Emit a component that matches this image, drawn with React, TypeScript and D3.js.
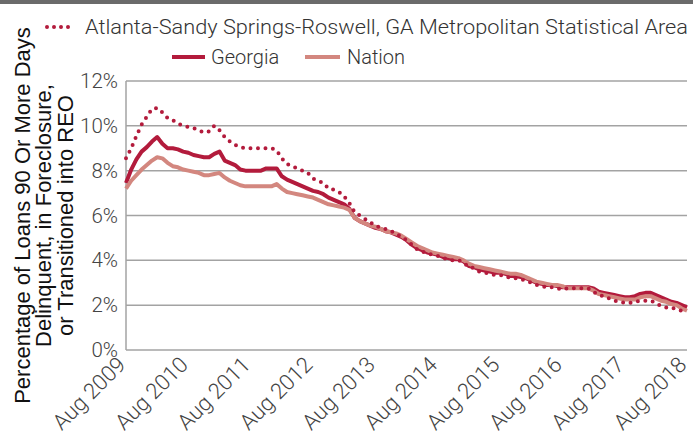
import React from 'react';
import * as d3 from 'd3';

// monthly values, Aug 2009 .. Aug 2018 (percent)
const atlanta = [
  8.55, 9.0, 9.55, 10.05, 10.4, 10.75, 10.8, 10.6, 10.35, 10.25, 10.1, 10.0,
  9.95, 9.9, 9.8, 9.7, 9.75, 10.0, 9.8, 9.5, 9.3, 9.15, 9.05, 9.0,
  9.0, 9.0, 9.0, 9.0, 9.0, 8.9, 8.55, 8.3, 8.2, 8.1, 8.0, 7.9,
  7.65, 7.55, 7.45, 7.2, 7.15, 7.05, 6.85, 6.55, 6.15, 6.0, 5.85, 5.7,
  5.55, 5.45, 5.4, 5.3, 5.2, 5.05, 4.9, 4.7, 4.5, 4.4, 4.3, 4.25,
  4.2, 4.1, 4.05, 4.0, 4.0, 3.9, 3.7, 3.65, 3.5, 3.45, 3.4, 3.35,
  3.35, 3.3, 3.2, 3.2, 3.15, 3.1, 3.0, 2.9, 2.85, 2.8, 2.8, 2.75,
  2.7, 2.75, 2.75, 2.75, 2.75, 2.75, 2.6, 2.45, 2.4, 2.3, 2.2, 2.15,
  2.1, 2.1, 2.15, 2.2, 2.2, 2.2, 2.1, 1.95, 1.9, 1.9, 1.8, 1.75, 1.75,
];
const georgia = [
  7.45, 8.05, 8.5, 8.85, 9.05, 9.3, 9.5, 9.2, 9.0, 9.0, 8.95, 8.85,
  8.8, 8.7, 8.65, 8.6, 8.6, 8.75, 8.85, 8.45, 8.35, 8.25, 8.05, 8.0,
  8.0, 8.0, 8.0, 8.1, 8.1, 8.1, 7.75, 7.6, 7.5, 7.4, 7.3, 7.2,
  7.1, 7.05, 6.95, 6.8, 6.7, 6.6, 6.5, 6.3, 5.9, 5.75, 5.65, 5.55,
  5.45, 5.4, 5.3, 5.25, 5.15, 5.05, 4.9, 4.7, 4.55, 4.45, 4.35, 4.3,
  4.25, 4.15, 4.1, 4.05, 4.05, 3.95, 3.75, 3.7, 3.6, 3.55, 3.5, 3.45,
  3.45, 3.4, 3.3, 3.3, 3.25, 3.2, 3.1, 3.0, 2.95, 2.9, 2.9, 2.85,
  2.8, 2.8, 2.8, 2.8, 2.8, 2.8, 2.75, 2.6, 2.55, 2.5, 2.45, 2.4,
  2.35, 2.35, 2.4, 2.5, 2.55, 2.55, 2.45, 2.35, 2.25, 2.15, 2.1, 2.0, 1.9,
];
const nation = [
  7.2, 7.55, 7.8, 8.05, 8.25, 8.45, 8.6, 8.55, 8.35, 8.2, 8.15, 8.05,
  8.0, 7.95, 7.9, 7.8, 7.8, 7.85, 7.9, 7.7, 7.55, 7.45, 7.35, 7.3,
  7.3, 7.3, 7.3, 7.3, 7.3, 7.4, 7.2, 7.05, 7.0, 6.95, 6.9, 6.85,
  6.8, 6.7, 6.6, 6.5, 6.45, 6.4, 6.35, 6.25, 5.9, 5.75, 5.65, 5.55,
  5.5, 5.4, 5.3, 5.25, 5.2, 5.1, 4.95, 4.8, 4.65, 4.55, 4.45, 4.35,
  4.3, 4.25, 4.2, 4.15, 4.1, 4.0, 3.85, 3.75, 3.7, 3.65, 3.6, 3.55,
  3.5, 3.45, 3.4, 3.4, 3.35, 3.25, 3.15, 3.05, 3.0, 2.95, 2.9, 2.9,
  2.85, 2.75, 2.75, 2.75, 2.75, 2.75, 2.65, 2.5, 2.45, 2.4, 2.35, 2.3,
  2.25, 2.25, 2.25, 2.35, 2.4, 2.4, 2.3, 2.2, 2.15, 2.05, 2.0, 1.85, 1.75,
];
const xTickLabels = [
  'Aug 2009', 'Aug 2010', 'Aug 2011', 'Aug 2012', 'Aug 2013',
  'Aug 2014', 'Aug 2015', 'Aug 2016', 'Aug 2017', 'Aug 2018',
];
const yTicks = [0, 2, 4, 6, 8, 10, 12];
const legendAtlanta = 'Atlanta-Sandy Springs-Roswell, GA Metropolitan Statistical Area';

const RED = '#b31b3c';
const PINK = '#d3877f';
const GRID = '#a3a3a3';
const FONT = "'Liberation Sans', Arial, sans-serif";
const LIGHT = "Roboto, 'Liberation Sans', sans-serif";

const App = () => {
  const width = 693;
  const height = 445;
  const left = 126;
  const right = 687;
  const top = 81;
  const bottom = 350;

  const x = d3.scaleLinear().domain([0, georgia.length - 1]).range([left, right]);
  const y = d3.scaleLinear().domain([0, 12]).range([bottom, top]);
  const line = d3.line<number>()
    .x((d, i) => x(i))
    .y(d => y(d))
    .curve(d3.curveLinear);

  return (
    <svg width={width} height={height}
      style={{ position: 'absolute', left: 0, top: 0, display: 'block', background: '#fff' }}>
      <rect x={0} y={0} width={width} height={4} fill="#6b6b6b" />

      {/* legend */}
      <g fontFamily={LIGHT} fontWeight={300} fill="#333">
        <line x1={47} x2={75} y1={27} y2={27} stroke={RED} strokeWidth={4}
          strokeDasharray="0 7" strokeLinecap="round" />
        <text x={85} y={34} fontSize={20} textLength={603} lengthAdjust="spacingAndGlyphs">
          {legendAtlanta}
        </text>
        <line x1={172} x2={205} y1={57} y2={57} stroke={RED} strokeWidth={4} />
        <text x={211} y={64} fontSize={20}>Georgia</text>
        <line x1={305} x2={340} y1={57} y2={57} stroke={PINK} strokeWidth={4} />
        <text x={347} y={64} fontSize={20}>Nation</text>
      </g>

      {/* y title */}
      <g transform={`translate(0, ${(top + bottom) / 2}) rotate(-90)`}
        fontFamily={FONT} fontSize={22} fill="#111" textAnchor="middle">
        <text x={0} y={30}>Percentage of Loans 90 Or More Days</text>
        <text x={0} y={51}>Delinquent, in Foreclosure,</text>
        <text x={0} y={73}>or Transitioned into REO</text>
      </g>

      {/* grid + y ticks */}
      {yTicks.map(t => (
        <g key={t}>
          <line x1={left} x2={right} y1={y(t)} y2={y(t)} stroke={GRID} strokeWidth={1.5} />
          <text x={118} y={y(t) + 7} textAnchor="end" fontFamily={LIGHT} fontWeight={300}
            fontSize={20.5} fill="#444">{`${t}%`}</text>
        </g>
      ))}
      <line x1={left} x2={left} y1={top} y2={bottom} stroke={GRID} strokeWidth={1.5} />

      {/* x tick labels */}
      {xTickLabels.map((lab, i) => {
        const xi = x(i * 12);
        return (
          <text key={lab} transform={`translate(${xi + 1}, ${366}) rotate(-45)`}
            textAnchor="end" fontFamily={LIGHT} fontWeight={300} fontSize={22}
            fill="#444">{lab}</text>
        );
      })}

      <path d={line(georgia) || ''} fill="none" stroke={RED} strokeWidth={4}
        strokeLinejoin="round" />
      <path d={line(nation) || ''} fill="none" stroke={PINK} strokeWidth={4}
        strokeLinejoin="round" />
      <path d={line(atlanta) || ''} fill="none" stroke={RED} strokeWidth={4}
        strokeDasharray="0 7.5" strokeLinecap="round" />
    </svg>
  );
};

export default App;
